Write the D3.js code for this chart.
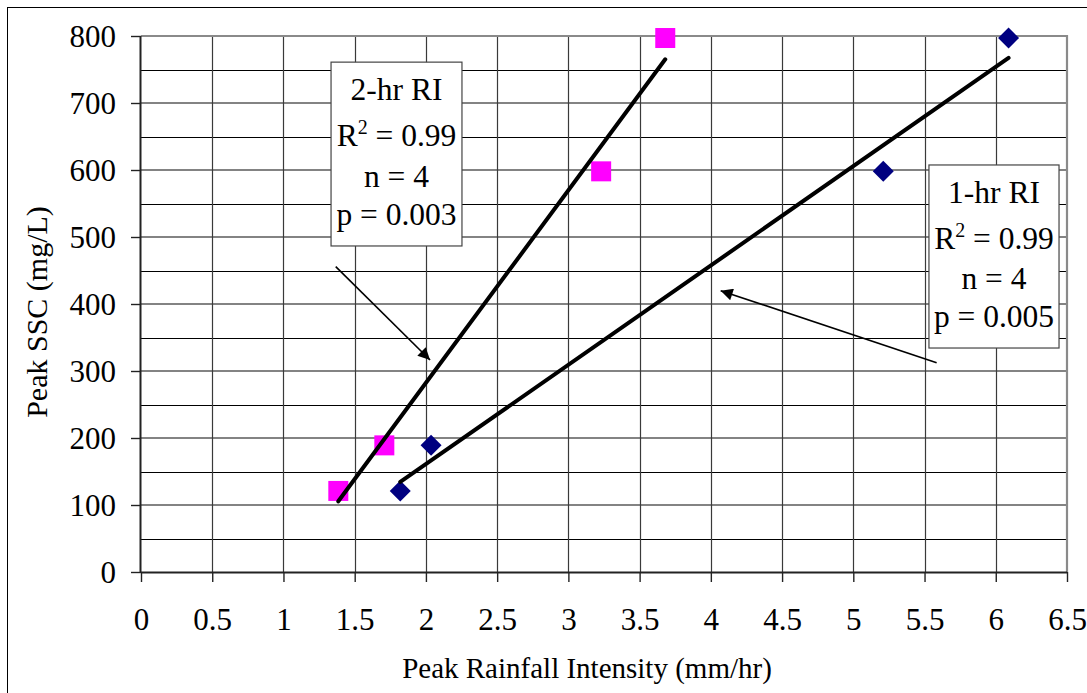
<!DOCTYPE html>
<html>
<head>
<meta charset="utf-8">
<script src="https://cdn.jsdelivr.net/npm/d3@7"></script>
<style>
  html, body { margin: 0; padding: 0; background: #fff; }
  svg { display: block; }
  text { font-family: "Liberation Serif", "Times New Roman", serif; fill: #000; }
</style>
</head>
<body>
<svg id="chart" width="1087" height="693"></svg>
<script>
// ---- Data ----
const peakSSC = [121, 189, 598, 797];
const ri2hr = [1.385, 1.708, 3.23, 3.68];
const ri1hr = [1.82, 2.036, 5.21, 6.09];
const xTickValues = [0, 0.5, 1, 1.5, 2, 2.5, 3, 3.5, 4, 4.5, 5, 5.5, 6, 6.5];
const yTickValues = [0, 100, 200, 300, 400, 500, 600, 700, 800];
const yMinorValues = [50, 150, 250, 350, 450, 550, 650, 750];
const box2hrLines = ["2-hr RI", "R2 = 0.99", "n = 4", "p = 0.003"];
const box1hrLines = ["1-hr RI", "R2 = 0.99", "n = 4", "p = 0.005"];
const xTitle = "Peak Rainfall Intensity (mm/hr)";
const yTitle = "Peak SSC (mg/L)";

// annotation anchors in data units
const box2hr = {x0: 1.334, x1: 2.253, y0: 761, y1: 486.6};
const box1hr = {x0: 5.531, x1: 6.444, y0: 607.5, y1: 334.3};
const arrow2hr = {from: [1.367, 455.7], to: [2.029, 316.4]};
const arrow1hr = {from: [5.585, 312.4], to: [4.069, 419.9]};

// ---- Layout ----
const svg = d3.select("#chart");
const mLeft = 141, mTop = 36, plotW = 926, plotH = 536;

const x = d3.scaleLinear().domain([0, 6.5]).range([mLeft, mLeft + plotW]);
const y = d3.scaleLinear().domain([0, 800]).range([mTop + plotH, mTop]);

// outer frame
svg.append("rect").attr("x", 7.5).attr("y", 7.5).attr("width", 1100).attr("height", 700)
  .attr("fill", "#fff").attr("stroke", "#000").attr("stroke-width", 1);

// defs arrow marker
const defs = svg.append("defs");
defs.append("marker").attr("id", "arrowhead")
  .attr("viewBox", "0 0 10 10").attr("refX", 10).attr("refY", 5)
  .attr("markerWidth", 10).attr("markerHeight", 7.5)
  .attr("markerUnits", "strokeWidth")
  .attr("orient", "auto")
  .append("path").attr("d", "M0,0 L10,5 L0,10 z").attr("fill", "#000");

// grid: minor horizontal
svg.append("g").selectAll("line").data(yMinorValues).join("line")
  .attr("x1", mLeft).attr("x2", mLeft + plotW)
  .attr("y1", d => Math.round(y(d)) + 0.5).attr("y2", d => Math.round(y(d)) + 0.5)
  .attr("stroke", "#000").attr("stroke-width", 1);
// major horizontal
svg.append("g").selectAll("line").data(yTickValues.filter(d => d > 0 && d < 800)).join("line")
  .attr("x1", mLeft).attr("x2", mLeft + plotW)
  .attr("y1", d => y(d)).attr("y2", d => y(d))
  .attr("stroke", "#5a5a5a").attr("stroke-width", 1.6);
// vertical
svg.append("g").selectAll("line").data(xTickValues.filter(d => d > 0 && d < 6.5)).join("line")
  .attr("x1", d => Math.round(x(d)) + 0.5).attr("x2", d => Math.round(x(d)) + 0.5)
  .attr("y1", mTop).attr("y2", mTop + plotH)
  .attr("stroke", "#3a3a3a").attr("stroke-width", 1.2);

// top and right border (gray)
svg.append("path")
  .attr("d", `M${mLeft},${mTop} H${mLeft + plotW} V${mTop + plotH}`)
  .attr("fill", "none").attr("stroke", "#8a8a8a").attr("stroke-width", 2.2);

// axes via d3
const xAxis = d3.axisBottom(x).tickValues(xTickValues).tickSize(10).tickPadding(26)
  .tickFormat(d => String(d));
const gx = svg.append("g").attr("transform", `translate(0,${mTop + plotH})`).call(xAxis);
gx.select(".domain").attr("stroke", "#222").attr("stroke-width", 2).attr("d", `M${mLeft},0.5H${mLeft + plotW}`);
gx.selectAll(".tick line").attr("stroke", "#222").attr("stroke-width", 1.4);
gx.selectAll(".tick text").attr("font-family", "Liberation Serif").attr("font-size", 31).attr("fill", "#000");

const yAxis = d3.axisLeft(y).tickValues(yTickValues).tickSize(10).tickPadding(15)
  .tickFormat(d => String(d));
const gy = svg.append("g").attr("transform", `translate(${mLeft},0)`).call(yAxis);
gy.select(".domain").attr("stroke", "#222").attr("stroke-width", 2).attr("d", `M-0.5,${mTop}V${mTop + plotH}`);
gy.selectAll(".tick line").attr("stroke", "#222").attr("stroke-width", 1.4);
gy.selectAll(".tick text").attr("font-family", "Liberation Serif").attr("font-size", 31).attr("fill", "#000")
  .attr("dy", "0.34em");

// axis titles
svg.append("text").attr("x", 587).attr("y", 678).attr("text-anchor", "middle")
  .attr("font-size", 29).text(xTitle);
svg.append("text").attr("transform", "translate(47,312) rotate(-90)").attr("text-anchor", "middle")
  .attr("font-size", 30).text(yTitle);

// markers
const pts2 = ri2hr.map((v, i) => ({x: v, y: peakSSC[i]}));
const pts1 = ri1hr.map((v, i) => ({x: v, y: peakSSC[i]}));
const sq = 20;
svg.append("g").selectAll("rect").data(pts2).join("rect")
  .attr("x", d => x(d.x) - sq / 2).attr("y", d => y(d.y) - sq / 2)
  .attr("width", sq).attr("height", sq).attr("fill", "#FF00FF");
const dm = 10.5;
svg.append("g").selectAll("path").data(pts1).join("path")
  .attr("d", d => `M${x(d.x)},${y(d.y) - dm} L${x(d.x) + dm},${y(d.y)} L${x(d.x)},${y(d.y) + dm} L${x(d.x) - dm},${y(d.y)} Z`)
  .attr("fill", "#000080");

// regression lines
function fit(pts) {
  const mx = d3.mean(pts, d => d.x), my = d3.mean(pts, d => d.y);
  const sxy = d3.sum(pts, d => (d.x - mx) * (d.y - my));
  const sxx = d3.sum(pts, d => (d.x - mx) * (d.x - mx));
  const b = sxy / sxx, a = my - b * mx;
  const xs = d3.extent(pts, d => d.x);
  return xs.map(v => ({x: v, y: a + b * v}));
}
const line = d3.line().x(d => x(d.x)).y(d => y(d.y));
[fit(pts2), fit(pts1)].forEach(f => {
  svg.append("path").attr("d", line(f)).attr("fill", "none")
    .attr("stroke", "#000").attr("stroke-width", 4).attr("stroke-linecap", "round");
});

// annotation boxes
function drawBox(b, lines, baselines) {
  const g = svg.append("g");
  g.append("rect").attr("x", x(b.x0)).attr("y", y(b.y0))
    .attr("width", x(b.x1) - x(b.x0)).attr("height", y(b.y1) - y(b.y0))
    .attr("fill", "#fff").attr("stroke", "#444").attr("stroke-width", 1.2);
  const cx = (x(b.x0) + x(b.x1)) / 2;
  lines.forEach((t, i) => {
    const tx = g.append("text").attr("x", cx).attr("y", y(b.y0) + baselines[i])
      .attr("text-anchor", "middle").attr("font-size", 31.5);
    if (t.startsWith("R2")) {
      tx.append("tspan").text("R");
      tx.append("tspan").attr("font-size", 20).attr("dy", -12).text("2");
      tx.append("tspan").attr("dy", 12).text(t.slice(2));
    } else {
      tx.text(t);
    }
  });
}
drawBox(box2hr, box2hrLines, [38, 84, 125, 163]);
drawBox(box1hr, box1hrLines, [38, 84, 124, 162]);

// arrows
[arrow2hr, arrow1hr].forEach(a => {
  svg.append("line")
    .attr("x1", x(a.from[0])).attr("y1", y(a.from[1]))
    .attr("x2", x(a.to[0])).attr("y2", y(a.to[1]))
    .attr("stroke", "#000").attr("stroke-width", 1.6)
    .attr("marker-end", "url(#arrowhead)");
});
</script>
</body>
</html>
